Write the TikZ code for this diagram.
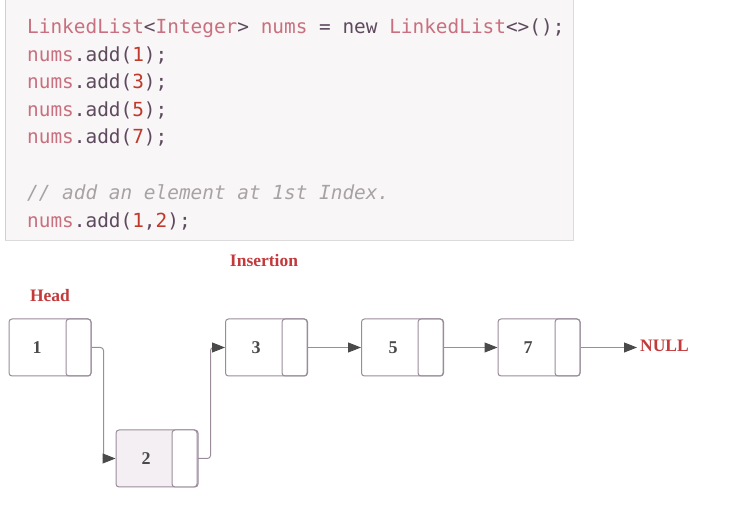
\documentclass[tikz,border=0pt]{standalone}
\usepackage{fontspec}
\setmainfont{Liberation Serif}
\setmonofont{DejaVu Sans Mono}
\usetikzlibrary{arrows.meta}
\definecolor{codebg}{HTML}{F8F6F6}
\definecolor{kw}{HTML}{C8707F}
\definecolor{op}{HTML}{5E4A5E}
\definecolor{numc}{HTML}{C0392B}
\definecolor{cmt}{HTML}{A8A2A6}
\definecolor{lbl}{HTML}{C23A3C}
\definecolor{edgec}{HTML}{9A8C9A}
\definecolor{tipc}{HTML}{4A4A4A}
\definecolor{leftb}{HTML}{E6C6CC}
\definecolor{botb}{HTML}{DDDADC}
\definecolor{fillb}{HTML}{F3EFF3}
\begin{document}
\begin{tikzpicture}[x=1pt,y=-1pt,
  code/.style={anchor=base west,inner sep=0pt,font=\ttfamily\fontsize{19.4}{20}\selectfont},
  box/.style={draw=edgec,line width=1pt,rounded corners=3pt,minimum width=82pt,minimum height=57pt,inner sep=0pt},
  ptr/.style={draw=edgec,line width=1pt,rounded corners=3pt,minimum width=25pt,minimum height=57pt,inner sep=0pt},
  val/.style={inner sep=0pt,text=tipc,font=\bfseries\fontsize{18}{18}\selectfont},
  lab/.style={inner sep=0pt,text=lbl,font=\bfseries\fontsize{17.5}{18}\selectfont},
  conn/.style={draw=edgec,line width=1pt,rounded corners=3pt,-{Triangle[length=13pt,width=10pt,color=tipc]}}
]
\useasboundingbox (0,0) rectangle (732,510);
% code block
\fill[codebg] (5,0) rectangle (573,241);
\draw[leftb,line width=1pt] (5,0) -- (5,241);
\draw[botb,line width=1pt] (5,241) -- (573,241) -- (573,0);
\node[code] (c1) at (27,34) {\textcolor{kw}{LinkedList}\textcolor{op}{<}\textcolor{kw}{Integer}\textcolor{op}{>} \textcolor{kw}{nums} \textcolor{op}{= new} \textcolor{kw}{LinkedList}\textcolor{op}{<>();}};
\node[code] (c2) at (27,62) {\textcolor{kw}{nums}\textcolor{op}{.add(}\textcolor{numc}{1}\textcolor{op}{);}};
\node[code] (c3) at (27,89) {\textcolor{kw}{nums}\textcolor{op}{.add(}\textcolor{numc}{3}\textcolor{op}{);}};
\node[code] (c4) at (27,116.5) {\textcolor{kw}{nums}\textcolor{op}{.add(}\textcolor{numc}{5}\textcolor{op}{);}};
\node[code] (c5) at (27,144) {\textcolor{kw}{nums}\textcolor{op}{.add(}\textcolor{numc}{7}\textcolor{op}{);}};
\node[code] (c6) at (27,200) {\textcolor{cmt}{\itshape // add an element at 1st Index.}};
\node[code] (c7) at (27,228) {\textcolor{kw}{nums}\textcolor{op}{.add(}\textcolor{numc}{1}\textcolor{op}{,}\textcolor{numc}{2}\textcolor{op}{);}};
% labels
\node[lab] (head) at (50,296) {Head};
\node[lab] (ins) at (264,261) {Insertion};
\node[lab,anchor=west] (null) at (640,345.5) {NULL};
% nodes
\node[box] (n1) at (50,347.5) {};
\node[ptr] (p1) at (78.5,347.5) {};
\node[val] (t1) at (37,347.5) {1};
\node[box,fill=fillb] (n2) at (157,458.5) {};
\node[ptr,fill=white] (p2) at (184.5,458.5) {};
\node[val] (t2) at (146,458.5) {2};
\node[box] (n3) at (266.5,347.5) {};
\node[ptr] (p3) at (294.5,347.5) {};
\node[val] (t3) at (256,347.5) {3};
\node[box] (n5) at (402.5,347.5) {};
\node[ptr] (p5) at (430.5,347.5) {};
\node[val] (t5) at (393,347.5) {5};
\node[box] (n7) at (539,347.5) {};
\node[ptr] (p7) at (567.5,347.5) {};
\node[val] (t7) at (528,347.5) {7};
% connectors
\draw[conn] (p1.east) -- ++(12,0) |- (n2.west);
\draw[conn] (p2.east) -- ++(13,0) |- (n3.west);
\draw[conn] (p3.east) -- (n5.west);
\draw[conn] (p5.east) -- (n7.west);
\draw[conn] (p7.east) -- ([xshift=-3pt]p7.east -| null.west);
\end{tikzpicture}
\end{document}
